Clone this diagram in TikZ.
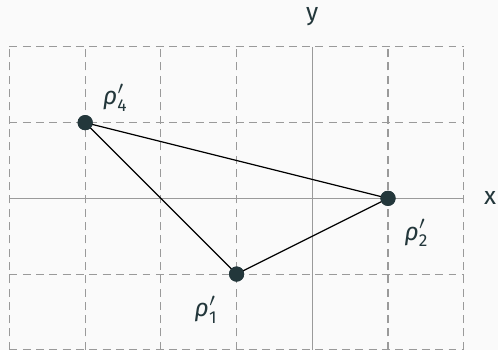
\documentclass[tikz,border=0pt]{standalone}
\usepackage{amsmath}
\usepackage{fontspec}
\setmainfont{Fira Sans}
\usepackage{tikz}
\usetikzlibrary{positioning,backgrounds}
\definecolor{Slate}{HTML}{23373B}
\definecolor{Bg}{HTML}{FAFAFA}
\definecolor{GridGray}{HTML}{9A9A9A}
\newcommand{\rp}[1]{$\text{\itshape ρ}'_{\text{#1}}$}
\tikzset{
  pt/.style={circle,fill=Slate,draw=none,minimum size=4mm,inner sep=0pt,scale=.5},
  side/.style={draw=black,line width=.45pt},
  gridline/.style={draw=GridGray,line width=.4pt,dash pattern=on 3pt off 2pt},
  axisline/.style={draw=GridGray,line width=.45pt},
  lab/.style={font=\fontsize{9.3}{11}\selectfont,text=Slate,inner sep=1pt}
}
\begin{document}
\begin{tikzpicture}[x=1cm,y=1cm]
  \useasboundingbox[fill=Bg] (-4.125,-2.004) rectangle (2.453,2.62);
  % axes and grid
  \coordinate (xs) at (-4,0);
  \coordinate (xe) at (2,0);
  \coordinate (ys) at (0,-2);
  \coordinate (ye) at (0,2);
  \draw[axisline] (xs)--(xe);
  \draw[axisline] (ys)--(ye);
  \draw[gridline] (-4,-2) grid (2,2);
  \node[lab] (xl) at (2.35,0) {x};
  \node[lab] (yl) at (0,2.4) {y};
  % points
  \node[pt] (p1) at (-1,-1) {};
  \node[pt] (p2) at (1,0) {};
  \node[pt] (p4) at (-3,1) {};
  \node[lab] (l1) at (-1.4,-1.47) {\rp{1}};
  \node[lab] (l2) at (1.38,-0.46) {\rp{2}};
  \node[lab] (l4) at (-2.6,1.33) {\rp{4}};
  \draw[side] (p4.center)--(p2.center)--(p1.center)--(p4.center);
  \node[pt] at (p1) {};
  \node[pt] at (p2) {};
  \node[pt] at (p4) {};
\end{tikzpicture}
\end{document}
